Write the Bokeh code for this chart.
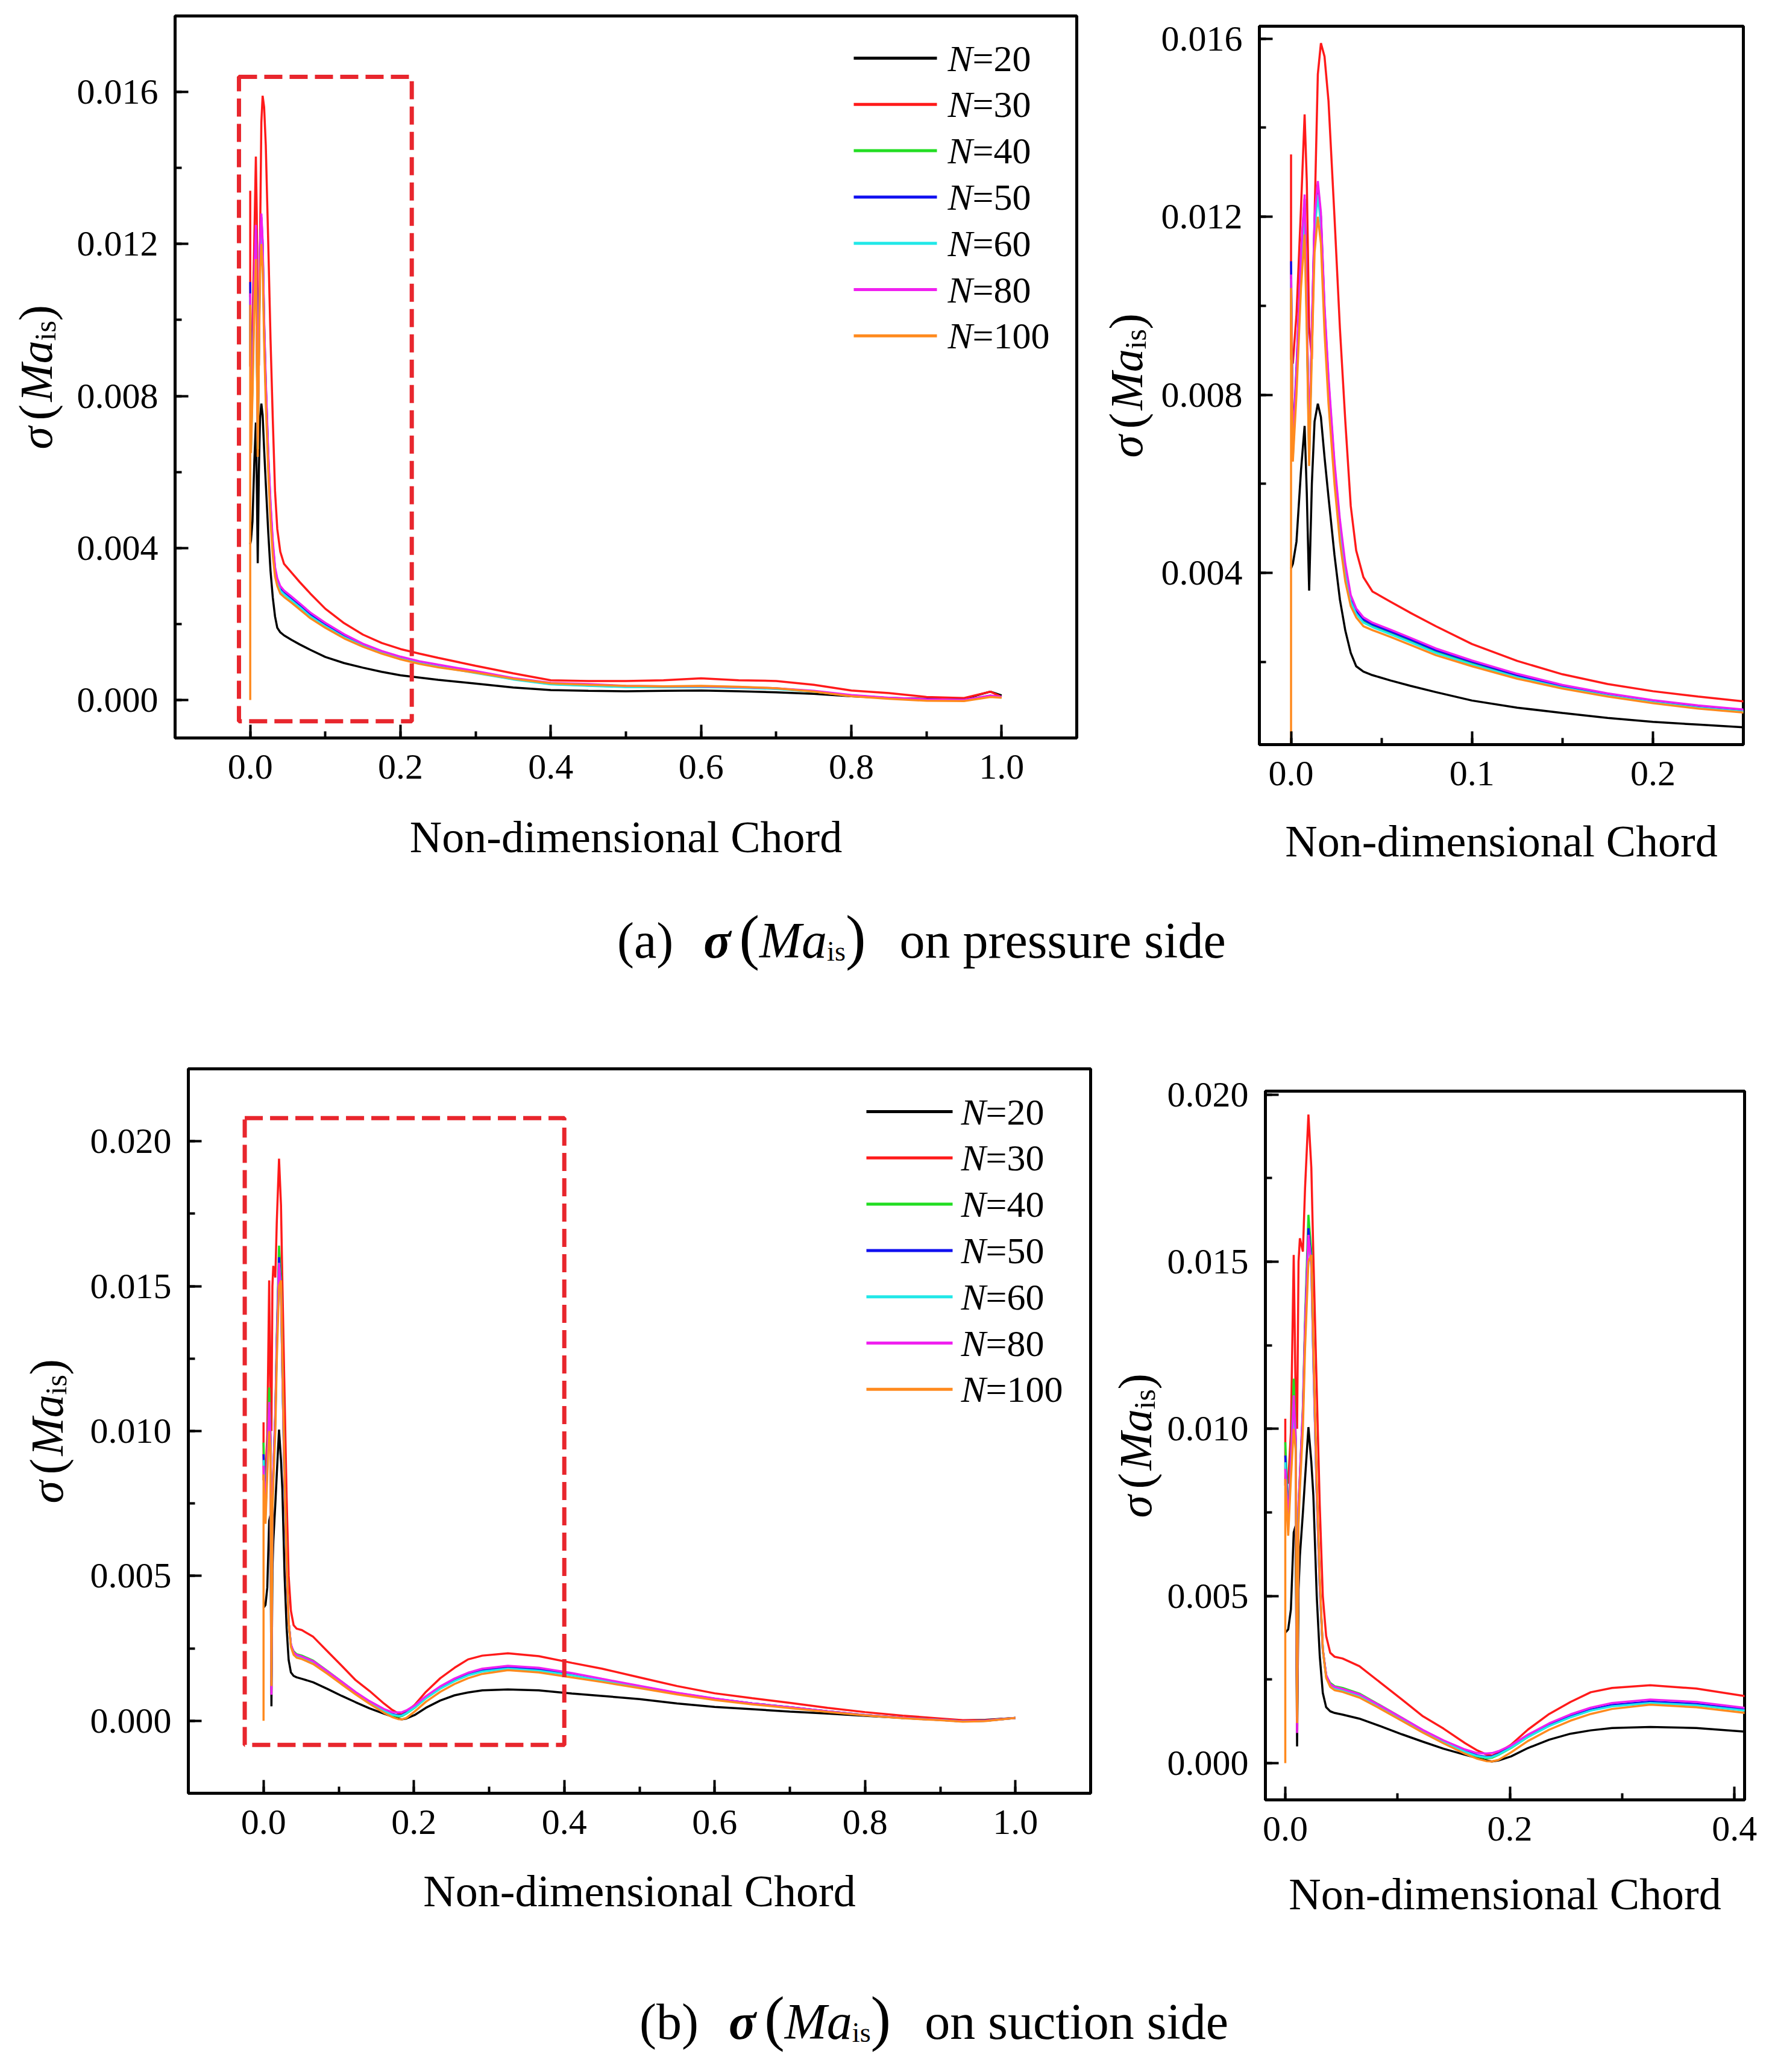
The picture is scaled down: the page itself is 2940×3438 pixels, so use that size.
import math

from bokeh.embed import file_html
from bokeh.layouts import column, row
from bokeh.models import BoxAnnotation, Div, Label, PrintfTickFormatter, SingleIntervalTicker, Spacer
from bokeh.plotting import figure
from bokeh.resources import INLINE

SERIES = ['N=20', 'N=30', 'N=40', 'N=50', 'N=60', 'N=80', 'N=100']
COLORS = ['#000000', '#FF1A1A', '#22DD22', '#1010F0', '#22E8E8', '#F020F0', '#FF8A1E']

# pressure side
PS_X = [0.0, 0.0, 0.001, 0.003, 0.0055, 0.0075, 0.0087, 0.0100, 0.0115, 0.013, 0.0148, 0.0165,
        0.0185, 0.0207, 0.024, 0.027, 0.030, 0.033, 0.036, 0.040, 0.045, 0.055, 0.066, 0.080,
        0.100, 0.125, 0.150, 0.175, 0.200, 0.225, 0.250, 0.30, 0.35, 0.40, 0.45, 0.50, 0.55,
        0.60, 0.65, 0.70, 0.75, 0.80, 0.85, 0.90, 0.95, 0.985, 1.0]
PS_N20 = [0.0041, 0.0041, 0.0042, 0.0047, 0.0063, 0.0073, 0.0058, 0.0036, 0.0060, 0.0074, 0.0078, 0.0075,
          0.0066, 0.0057, 0.0044, 0.0034, 0.0027, 0.0022, 0.0019, 0.00178, 0.00170, 0.00158, 0.00146, 0.00132,
          0.00113, 0.00097, 0.00085, 0.00074, 0.00065, 0.00059, 0.00053, 0.00043, 0.00033, 0.00026, 0.00024,
          0.00023, 0.00024, 0.00025, 0.00023, 0.00020, 0.00016, 0.00010, 0.00005, 0.00003, 0.00003, 0.00022,
          0.00012]
PS_N30 = [0.0134, 0.0088, 0.0087, 0.0098, 0.0122, 0.0143, 0.0128, 0.0095, 0.0088, 0.0120, 0.0152, 0.0159,
          0.0156, 0.0146, 0.0120, 0.0095, 0.0074, 0.0055, 0.0045, 0.0039, 0.00358, 0.00335, 0.00310, 0.00280,
          0.00240, 0.00202, 0.00172, 0.00150, 0.00134, 0.00122, 0.00111, 0.00090, 0.00070, 0.00052, 0.00050,
          0.00050, 0.00052, 0.00057, 0.00052, 0.00050, 0.00040, 0.00025, 0.00018, 0.00008, 0.00005, 0.00022,
          0.00008]
PS_N40 = [0.0105, 0.0105, 0.0067, 0.0084, 0.0109, 0.0122, 0.0098, 0.0066, 0.0093, 0.0117, 0.0126, 0.0119,
          0.0098, 0.0082, 0.0063, 0.0050, 0.0040, 0.0034, 0.0031, 0.0029, 0.00280, 0.00264, 0.00246, 0.00222,
          0.00196, 0.00167, 0.00143, 0.00125, 0.00110, 0.00098, 0.00089, 0.00072, 0.00055, 0.00042, 0.00038,
          0.00035, 0.00034, 0.00035, 0.00033, 0.00030, 0.00022, 0.00012, 0.00005, 0.00001, -0.00001, 0.00011,
          0.00008]
PS_N50 = [0.0110, 0.0110, 0.0069, 0.0086, 0.0111, 0.0124, 0.0099, 0.0067, 0.0094, 0.0119, 0.0127, 0.0120,
          0.0099, 0.0083, 0.0064, 0.0051, 0.0041, 0.00345, 0.00315, 0.00295, 0.00284, 0.00268, 0.00250, 0.00226,
          0.00200, 0.00170, 0.00146, 0.00127, 0.00112, 0.00100, 0.00091, 0.00074, 0.00056, 0.00043, 0.00039,
          0.00036, 0.00035, 0.00035, 0.00033, 0.00030, 0.00023, 0.00012, 0.00005, 0.00002, 0.0, 0.00011,
          0.00008]
PS_N60 = [0.0106, 0.0106, 0.0066, 0.0083, 0.0108, 0.0120, 0.0097, 0.0066, 0.0092, 0.0116, 0.0125, 0.0118,
          0.0097, 0.0081, 0.0062, 0.0049, 0.00395, 0.00335, 0.00308, 0.00288, 0.00278, 0.00262, 0.00244, 0.00220,
          0.00194, 0.00165, 0.00142, 0.00124, 0.00109, 0.00097, 0.00088, 0.00071, 0.00054, 0.00041, 0.00037,
          0.00034, 0.00034, 0.00034, 0.00032, 0.00029, 0.00022, 0.00011, 0.00005, 0.00001, -0.00001, 0.00010,
          0.00007]
PS_N80 = [0.0107, 0.0107, 0.0068, 0.0085, 0.0112, 0.0125, 0.0100, 0.0068, 0.0095, 0.0120, 0.0128, 0.0121,
          0.0100, 0.0084, 0.0065, 0.0052, 0.0042, 0.0035, 0.0032, 0.0030, 0.00288, 0.00272, 0.00254, 0.00230,
          0.00203, 0.00173, 0.00148, 0.00129, 0.00114, 0.00102, 0.00093, 0.00076, 0.00058, 0.00045, 0.00042,
          0.00037, 0.00036, 0.00036, 0.00034, 0.00031, 0.00024, 0.00013, 0.00006, 0.00002, 0.0, 0.00012,
          0.00008]
PS_N100 = [0.0, 0.0104, 0.0065, 0.0080, 0.0104, 0.0116, 0.0094, 0.0064, 0.0089, 0.0112, 0.0120, 0.0114,
           0.0094, 0.0078, 0.0060, 0.0047, 0.0038, 0.00325, 0.0030, 0.0028, 0.00271, 0.00256, 0.00238, 0.00215,
           0.00190, 0.00162, 0.00140, 0.00122, 0.00107, 0.00095, 0.00086, 0.00072, 0.00056, 0.00044, 0.00040,
           0.00037, 0.00036, 0.00037, 0.00035, 0.00031, 0.00022, 0.00010, 0.00003, -0.00002, -0.00003, 0.00008,
           0.00006]

# suction side
SS_X = [0.0, 0.0, 0.0026, 0.005, 0.0075, 0.0092, 0.0105, 0.0118, 0.013, 0.0157, 0.0176, 0.0206, 0.0232,
        0.025, 0.028, 0.0307, 0.0334, 0.0364, 0.040, 0.044, 0.051, 0.066, 0.085, 0.104, 0.1226, 0.141,
        0.160, 0.171, 0.179, 0.184, 0.190, 0.201, 0.216, 0.235, 0.254, 0.272, 0.291, 0.325, 0.366, 0.41,
        0.45, 0.50, 0.55, 0.60, 0.65, 0.70, 0.75, 0.80, 0.85, 0.90, 0.93, 0.96, 1.0]
SS_N20 = [0.0039, 0.0039, 0.0040, 0.0046, 0.0069, 0.0071, 0.0005, 0.0052, 0.0062, 0.0075, 0.0085, 0.01005,
          0.0090, 0.0080, 0.0050, 0.0032, 0.0021, 0.00167, 0.00155, 0.0015, 0.00145, 0.00133, 0.0011, 0.00086,
          0.00064, 0.00043, 0.00025, 0.00015, 0.00008, 0.00005, 0.00008, 0.0002, 0.00045, 0.0007, 0.00088,
          0.00098, 0.00105, 0.00108, 0.00105, 0.00094, 0.00086, 0.00075, 0.0006, 0.00048, 0.0004, 0.00032,
          0.00025, 0.00017, 0.0001, 0.00004, 0.00001, 0.00003, 0.0001]
SS_N30 = [0.0103, 0.0083, 0.0084, 0.0099, 0.0152, 0.0110, 0.0100, 0.0150, 0.0157, 0.0153, 0.0172, 0.0194,
          0.0178, 0.0152, 0.0112, 0.0077, 0.0050, 0.0038, 0.0033, 0.00318, 0.00313, 0.0029, 0.0024, 0.0019,
          0.0014, 0.00103, 0.0006, 0.00038, 0.00026, 0.00022, 0.00032, 0.00055, 0.0010, 0.00147, 0.00183,
          0.00212, 0.00225, 0.00233, 0.00223, 0.0020, 0.0018, 0.0015, 0.0012, 0.00095, 0.00078, 0.00062,
          0.00045, 0.0003, 0.00018, 0.00008, 0.00002, 0.00002, 0.0001]
SS_N40 = [0.0096, 0.0096, 0.0074, 0.0091, 0.0115, 0.0099, 0.0020, 0.0078, 0.0086, 0.0107, 0.0133, 0.0164,
          0.0153, 0.0123, 0.0082, 0.0054, 0.0034, 0.0026, 0.0024, 0.0023, 0.00225, 0.00208, 0.00172, 0.00135,
          0.00098, 0.00065, 0.00034, 0.0002, 0.00015, 0.00016, 0.00025, 0.00045, 0.00078, 0.00112, 0.00138,
          0.00158, 0.00172, 0.00182, 0.00175, 0.00158, 0.0014, 0.00118, 0.00095, 0.00076, 0.0006, 0.00047,
          0.00033, 0.0002, 0.0001, 0.00003, -0.00002, 0.0, 0.0001]
SS_N50 = [0.0092, 0.0092, 0.0072, 0.0089, 0.0108, 0.0097, 0.0015, 0.0076, 0.0085, 0.0105, 0.0130, 0.0160,
          0.0150, 0.0121, 0.0081, 0.0053, 0.0034, 0.00262, 0.00235, 0.00226, 0.0022, 0.00204, 0.00169, 0.00133,
          0.00097, 0.00065, 0.00036, 0.00023, 0.00019, 0.0002, 0.00028, 0.00048, 0.0008, 0.00114, 0.0014,
          0.0016, 0.00174, 0.00184, 0.00177, 0.0016, 0.00141, 0.00119, 0.00096, 0.00076, 0.0006, 0.00047,
          0.00033, 0.0002, 0.0001, 0.00003, -0.00002, 0.0, 0.0001]
SS_N60 = [0.0090, 0.0090, 0.0071, 0.0088, 0.0106, 0.0096, 0.0014, 0.0075, 0.0084, 0.0104, 0.0128, 0.0158,
          0.0148, 0.0120, 0.0080, 0.0052, 0.00335, 0.0026, 0.00233, 0.00224, 0.00218, 0.00202, 0.00167, 0.00131,
          0.00095, 0.00063, 0.00034, 0.00021, 0.00017, 0.00018, 0.00026, 0.00046, 0.00078, 0.00111, 0.00137,
          0.00157, 0.0017, 0.0018, 0.00173, 0.00157, 0.00139, 0.00117, 0.00094, 0.00075, 0.00059, 0.00046,
          0.00032, 0.0002, 0.0001, 0.00003, -0.00002, 0.0, 0.0001]
SS_N80 = [0.0088, 0.0088, 0.0072, 0.0090, 0.0110, 0.0098, 0.0009, 0.0077, 0.0086, 0.0106, 0.0130, 0.0158,
          0.0149, 0.0121, 0.0081, 0.0053, 0.0034, 0.00264, 0.00236, 0.00228, 0.00222, 0.00206, 0.00171, 0.00135,
          0.00099, 0.00068, 0.00041, 0.0003, 0.00029, 0.0003, 0.00036, 0.00053, 0.00085, 0.00119, 0.00146,
          0.00166, 0.0018, 0.0019, 0.00183, 0.00165, 0.00145, 0.00121, 0.00097, 0.00077, 0.0006, 0.00047,
          0.00033, 0.0002, 0.0001, 0.00003, -0.00002, 0.0, 0.0001]
SS_N100 = [0.0, 0.0085, 0.0068, 0.0085, 0.0100, 0.0094, 0.0012, 0.0072, 0.0082, 0.0100, 0.0124, 0.0150,
           0.0152, 0.0125, 0.0084, 0.0055, 0.0034, 0.00255, 0.00228, 0.00218, 0.00213, 0.00196, 0.00162, 0.00126,
           0.00091, 0.00059, 0.00028, 0.00013, 0.00006, 0.00005, 0.0001, 0.00032, 0.00066, 0.0010, 0.00127,
           0.00147, 0.00162, 0.00175, 0.00167, 0.0015, 0.00134, 0.00113, 0.00091, 0.00072, 0.00057, 0.00044,
           0.00031, 0.00019, 0.00009, 0.00002, -0.00003, -0.00001, 0.0001]

PS_SERIES = [PS_N20, PS_N30, PS_N40, PS_N50, PS_N60, PS_N80, PS_N100]
SS_SERIES = [SS_N20, SS_N30, SS_N40, SS_N50, SS_N60, SS_N80, SS_N100]

# dashed box marking the zoomed region (left, right, bottom, top)
PS_BOX = [-0.015, 0.215, -0.00056, 0.0164]
SS_BOX = [-0.025, 0.40, -0.00083, 0.0208]

FONT = 'Liberation Serif'


def ylabel_fig(width, frame_h, top, bottom, cx):
    # narrow strip holding the rotated sigma(Ma_is) label
    p = figure(frame_width=width, frame_height=frame_h, x_range=(0, 1), y_range=(0, 1),
               min_border_left=0, min_border_right=0, min_border_top=top, min_border_bottom=bottom,
               x_axis_type=None, y_axis_type=None, output_backend='svg', toolbar_location=None)
    p.outline_line_color = None
    p.grid.grid_line_color = None
    p.border_fill_color = 'white'
    pieces = [
        ('σ', 'italic', 76, 48, 0),
        ('(', 'normal', 80, 31, 0),
        ('Ma', 'italic', 76, 101, 0),
        ('is', 'normal', 50, 33, 15),
        (')', 'normal', 80, 27, 0),
    ]
    y = frame_h / 2 - sum(pc[3] for pc in pieces) / 2
    for text, style, size, adv, shift in pieces:
        p.add_layout(Label(
            x=cx + shift, y=y, x_units='screen', y_units='screen', text=text, angle=math.pi / 2,
            text_font=FONT, text_font_style=style, text_font_size=f'{size}px',
            text_align='left', text_baseline='middle', text_color='black'))
        y += adv
    return p


def add_legend(p, line_x0, line_x1, text_x, top_y):
    for i, (name, color) in enumerate(zip(SERIES, COLORS)):
        ry = top_y - i * 76.8
        p.add_layout(BoxAnnotation(
            left=line_x0, right=line_x1, bottom=ry - 2.5, top=ry + 2.5,
            left_units='screen', right_units='screen', bottom_units='screen', top_units='screen',
            fill_color=color, fill_alpha=1.0, line_alpha=0))
        p.add_layout(Label(
            x=text_x, y=ry, x_units='screen', y_units='screen', text='N',
            text_font=FONT, text_font_style='italic', text_font_size='62px',
            text_align='left', text_baseline='middle', text_color='black'))
        p.add_layout(Label(
            x=text_x + 41, y=ry, x_units='screen', y_units='screen', text='=' + name.split('=')[1],
            text_font=FONT, text_font_size='62px',
            text_align='left', text_baseline='middle', text_color='black'))


def make_panel(xs, series, x_range, y_range, x_step, y_step, frame, border, box=None, legend=None,
               label_standoff=52):
    p = figure(
        frame_width=frame[0], frame_height=frame[1],
        x_range=x_range, y_range=y_range,
        min_border_left=border[0], min_border_right=border[1],
        min_border_top=border[2], min_border_bottom=border[3],
        output_backend='svg', toolbar_location=None,
    )
    for ys, color in zip(series, COLORS):
        p.line(xs, ys, line_color=color, line_width=3.5)
    if box is not None:
        p.quad(left=[box[0]], right=[box[1]], bottom=[box[2]], top=[box[3]],
               fill_alpha=0, line_color='#E8262D', line_width=7, line_dash='30 12')

    p.xaxis.ticker = SingleIntervalTicker(interval=x_step, num_minor_ticks=2)
    p.yaxis.ticker = SingleIntervalTicker(interval=y_step, num_minor_ticks=2)
    p.xaxis.formatter = PrintfTickFormatter(format='%.1f')
    p.yaxis.formatter = PrintfTickFormatter(format='%.3f')

    p.xaxis.axis_label = 'Non-dimensional Chord'
    p.xaxis.axis_label_text_font = FONT
    p.xaxis.axis_label_text_font_style = 'normal'
    p.xaxis.axis_label_text_font_size = '74px'
    p.xaxis.axis_label_text_color = 'black'
    p.xaxis.axis_label_standoff = label_standoff

    p.axis.major_label_text_font = FONT
    p.axis.major_label_text_font_size = '60px'
    p.axis.major_label_text_color = 'black'
    p.xaxis.major_label_standoff = 28
    p.yaxis.major_label_standoff = 28
    p.axis.major_tick_in = 22
    p.axis.major_tick_out = 0
    p.axis.minor_tick_in = 11
    p.axis.minor_tick_out = 0
    p.axis.major_tick_line_width = 4
    p.axis.minor_tick_line_width = 4
    p.axis.major_tick_line_color = 'black'
    p.axis.minor_tick_line_color = 'black'
    p.axis.axis_line_width = 5
    p.axis.axis_line_color = 'black'

    p.grid.grid_line_color = None
    p.outline_line_color = 'black'
    p.outline_line_width = 5
    p.background_fill_color = 'white'
    p.border_fill_color = 'white'

    if legend is not None:
        add_legend(p, *legend)
    return p


# (a) pressure side
p_tl = make_panel(PS_X, PS_SERIES, (-0.1, 1.1), (-0.001, 0.018), 0.2, 0.004,
                  (1496, 1198), (180, 36, 26, 254), box=PS_BOX,
                  legend=(1126, 1264, 1282, 1128), label_standoff=53)
p_tr = make_panel(PS_X, PS_SERIES, (-0.0175, 0.25), (0.00014, 0.01628), 0.1, 0.004,
                  (803, 1192), (172, 24, 26, 243), label_standoff=49)
y_tl = ylabel_fig(110, 1198, 26, 254, 59)
y_tr = ylabel_fig(95, 1192, 26, 243, 46)

# (b) suction side
p_bl = make_panel(SS_X, SS_SERIES, (-0.1, 1.1), (-0.0025, 0.0225), 0.2, 0.005,
                  (1497, 1202), (190, 28, 41, 267), box=SS_BOX,
                  legend=(1125, 1268, 1282, 1131), label_standoff=51)
p_br = make_panel(SS_X, SS_SERIES, (-0.0177, 0.409), (-0.0011, 0.0201), 0.2, 0.005,
                  (795, 1176), (172, 22, 41, 256), label_standoff=45)
y_bl = ylabel_fig(122, 1202, 41, 267, 77)
y_br = ylabel_fig(90, 1176, 41, 256, 46)


def caption(tag, side, pad_left, pad_top, height):
    html = (
        f'<div style="font-family:\'{FONT}\'; font-size:84px; line-height:1; white-space:nowrap; '
        f'text-align:left; padding-left:{pad_left}px; padding-top:{pad_top}px; color:#000;">'
        f'({tag})<span style="margin-left:50px; font-weight:bold; font-style:italic;">σ</span>'
        f'<span style="font-size:1.2em; line-height:0; margin-left:14px;">(</span>'
        f'<i>Ma</i><span style="font-size:0.55em; line-height:0; vertical-align:-0.1em;">is</span>'
        f'<span style="font-size:1.2em; line-height:0;">)</span>'
        f'<span style="margin-left:56px;">on {side} side</span></div>'
    )
    return Div(text=html, width=2924, height=height)


cap_a = caption('a', 'pressure', 1019, 36, 244)
cap_b = caption('b', 'suction', 1056, 66, 190)

top_row = row(row(y_tl, p_tl), column(Spacer(width=1094, height=17), row(y_tr, p_tr)))
bottom_row = row(row(y_bl, p_bl), column(Spacer(width=1079, height=37), row(y_br, p_br)))

layout = column(top_row, cap_a, bottom_row, cap_b)

open('out.html', 'w').write(file_html(layout, INLINE))
